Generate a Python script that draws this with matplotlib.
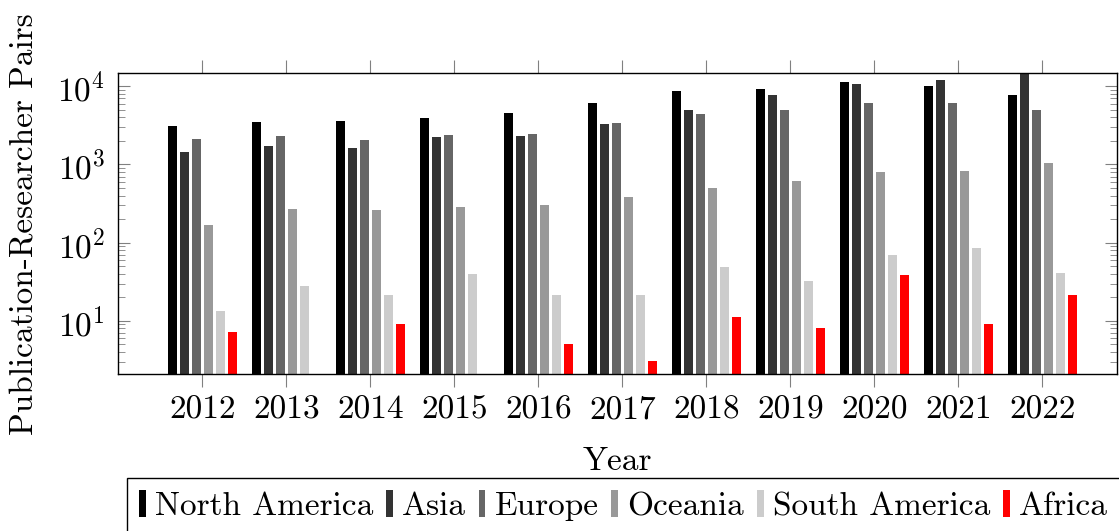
import matplotlib
matplotlib.use("Agg")
import matplotlib.pyplot as plt
import numpy as np

plt.rcParams['font.family'] = ['cmr10']
plt.rcParams['mathtext.fontset'] = 'cm'
plt.rcParams['axes.formatter.use_mathtext'] = True

years = [2012, 2013, 2014, 2015, 2016, 2017, 2018, 2019, 2020, 2021, 2022]
regions = ["North America", "Asia", "Europe", "Oceania", "South America", "Africa"]
north_america = [3080, 3520, 3560, 3900, 4560, 6120, 8710, 9230, 11250, 10090, 7670]
asia = [1430, 1740, 1610, 2230, 2310, 3270, 4980, 7740, 10600, 12040, 16000]
europe = [2120, 2330, 2040, 2380, 2450, 3400, 4420, 4930, 6060, 6120, 4970]
oceania = [168, 272, 264, 289, 303, 384, 500, 621, 809, 818, 1035]
south_america = [13.4, 27.7, 21.4, 40, 21.4, 21.4, 48.9, 32.7, 70.3, 84.7, 41.3]
africa = [7.1, 0, 9.2, 0, 5.1, 3.07, 11.2, 8.2, 38.6, 9.2, 21.4]
series = [north_america, asia, europe, oceania, south_america, africa]
colors = ["#000000", "#333333", "#666666", "#999999", "#cccccc", "#ff0000"]

fig = plt.figure(figsize=(11.19, 5.31), dpi=100)
ax = fig.add_axes([118.3/1119, 1-374.3/531, (1117-118.3)/1119, (374.3-73)/531])

x = np.array(years, dtype=float)
pitch = 0.144
width = 0.107
handles = []
for i, (vals, c, name) in enumerate(zip(series, colors, regions)):
    h = ax.bar(x + (i-2.5)*pitch, vals, width=width, color=c, label=name,
               edgecolor='none', linewidth=0, log=True)
    handles.append(h)

ax.set_yscale('log')
ax.set_ylim(2.07, 14800)
ax.set_xlim(2011.0, 2022.89)
ax.set_xticks(years)
ax.set_xticklabels([str(y) for y in years])
ax.set_yticks([10, 100, 1000, 10000])

ax.tick_params(axis='x', which='major', direction='out', top=True, bottom=True,
               length=9.4, width=0.8, color='0.5', labelsize=24, pad=6)
ax.tick_params(axis='x', which='minor', bottom=False, top=False)
ax.tick_params(axis='y', which='major', direction='in', left=True, right=True,
               length=8.5, width=0.8, color='0.5', labelsize=24, pad=9.5)
ax.tick_params(axis='y', which='minor', direction='in', left=True, right=True,
               length=5, width=0.6, color='0.5')
for s in ax.spines.values():
    s.set_linewidth(1.0)

ax.set_xlabel("Year", fontsize=24, labelpad=16)
ax.set_ylabel("Publication-Researcher Pairs", fontsize=24, labelpad=13)

leg = fig.legend(handles=handles, labels=regions, loc='upper center',
                 bbox_to_anchor=(623.5/1119, 1-478/531), ncol=6, fontsize=24,
                 frameon=True, fancybox=False, edgecolor='black', framealpha=1,
                 handlelength=0.2, handleheight=0.9, handletextpad=0.28,
                 columnspacing=0.38, borderpad=0.35, borderaxespad=0)
leg.get_frame().set_linewidth(1.0)

fig.savefig("out.png", dpi=100)
